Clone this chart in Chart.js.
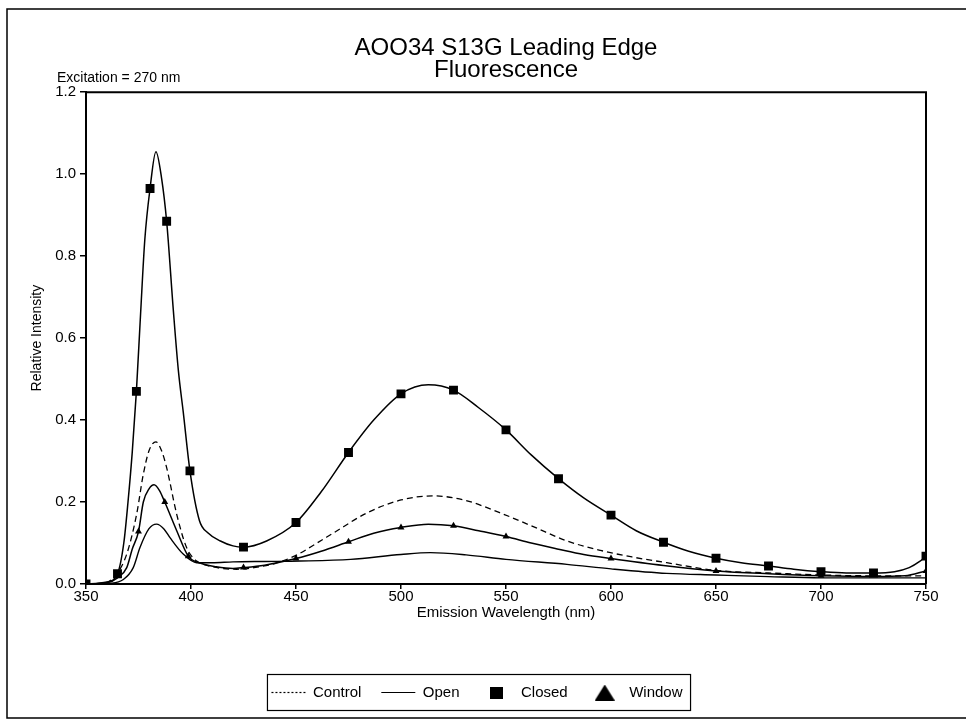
<!DOCTYPE html>
<html><head><meta charset="utf-8">
<script src="https://cdn.jsdelivr.net/npm/chart.js@4.4.1/dist/chart.umd.min.js"></script>
<style>html,body{margin:0;padding:0;background:#fff;}#wrap{width:966px;height:721px;position:relative;}</style>
</head><body><div id="wrap"><canvas id="c" width="966" height="721"></canvas></div>
<script>
const titleLines = ['AOO34 S13G Leading Edge', 'Fluorescence'];
const noteText = 'Excitation = 270 nm';
const xTitle = 'Emission Wavelength (nm)';
const yTitle = 'Relative Intensity';
const seriesNames = ['Control', 'Open', 'Closed', 'Window'];
const xTicks = [350, 400, 450, 500, 550, 600, 650, 700, 750];
const yTicks = [0, 0.2, 0.4, 0.6, 0.8, 1.0, 1.2];

const controlWl  = [350, 360, 364.6, 369.4, 374.1, 377.3, 380, 383.3, 386, 388.4, 393.2, 397.9, 402.7, 408, 415, 421.7, 430, 440, 450, 460, 468, 484, 500, 515, 530, 547, 563, 579, 595, 610, 626.5, 650, 675, 700, 725, 750];
const controlVal = [0, 0.004, 0.024, 0.073, 0.17, 0.268, 0.325, 0.347, 0.325, 0.284, 0.17, 0.089, 0.056, 0.045, 0.038, 0.036, 0.04, 0.05, 0.07, 0.1, 0.125, 0.174, 0.205, 0.215, 0.205, 0.174, 0.14, 0.105, 0.082, 0.066, 0.052, 0.033, 0.027, 0.022, 0.02, 0.02];

const openWl  = [350, 362, 367.8, 372.5, 375.7, 380, 383.6, 387, 390, 396.3, 402.7, 410, 420, 435, 452, 476, 500, 514, 531, 550, 579, 600, 626.5, 650, 675, 700, 725, 750];
const openVal = [0, 0.002, 0.011, 0.04, 0.089, 0.135, 0.146, 0.135, 0.113, 0.073, 0.052, 0.052, 0.054, 0.055, 0.056, 0.06, 0.072, 0.0765, 0.071, 0.06, 0.048, 0.037, 0.026, 0.022, 0.018, 0.015, 0.015, 0.015];

const closedWl  = [350, 360, 365, 368, 370, 372, 374, 376, 378, 380.5, 383.3, 386, 388.4, 391.6, 394, 396.3, 399.5, 404, 408, 414, 420, 425, 436, 450, 462, 475, 487, 500, 513, 525, 537, 550, 562, 575, 587, 600, 612, 625, 637, 650, 662, 675, 687, 700, 712, 725, 735, 742, 747, 750];
const closedVal = [0, 0.005, 0.025, 0.1, 0.2, 0.32, 0.47, 0.66, 0.84, 0.965, 1.055, 0.99, 0.885, 0.667, 0.52, 0.42, 0.276, 0.155, 0.125, 0.105, 0.093, 0.09, 0.105, 0.15, 0.225, 0.321, 0.4, 0.464, 0.486, 0.473, 0.43, 0.376, 0.315, 0.257, 0.21, 0.168, 0.13, 0.102, 0.08, 0.063, 0.052, 0.044, 0.036, 0.03, 0.027, 0.027, 0.03, 0.04, 0.055, 0.068];
const closedMarks = [350, 365, 374, 380.5, 388.4, 399.5, 425, 450, 475, 500, 525, 550, 575, 600, 625, 650, 675, 700, 725, 750];

const windowWl  = [350, 360, 365, 369.4, 372, 375, 377.3, 380, 382.4, 385, 387.5, 393.2, 398.7, 405, 412, 420, 425, 435, 450, 462, 475, 487, 500, 513, 525, 537, 550, 562, 575, 587, 600, 625, 650, 675, 700, 725, 740, 750];
const windowVal = [0, 0.003, 0.015, 0.04, 0.085, 0.128, 0.2, 0.232, 0.242, 0.228, 0.2, 0.13, 0.068, 0.05, 0.042, 0.038, 0.04, 0.046, 0.062, 0.08, 0.103, 0.124, 0.138, 0.146, 0.142, 0.13, 0.116, 0.1, 0.085, 0.072, 0.062, 0.045, 0.032, 0.025, 0.02, 0.018, 0.02, 0.032];
const windowMarks = [375, 387.5, 398.7, 425, 450, 475, 500, 525, 550, 600, 650, 700, 750];

const FONT = "'Liberation Sans', Arial, Helvetica, sans-serif";
const pts = (wl, val) => wl.map((w, i) => ({x: w, y: val[i]}));
const radii = (wl, marks, r) => wl.map(w => marks.includes(w) ? r : 0);

const squareImg = document.createElement('canvas');
squareImg.width = 13; squareImg.height = 12;
{ const g = squareImg.getContext('2d'); g.fillStyle = '#000'; g.fillRect(0, 0, 13, 12); }
const triImg = document.createElement('canvas');
triImg.width = 20; triImg.height = 16;
{ const g = triImg.getContext('2d'); g.fillStyle = '#000'; g.beginPath(); g.moveTo(10, 0); g.lineTo(20, 16); g.lineTo(0, 16); g.closePath(); g.fill(); }

const decor = {
  id: 'decor',
  beforeDraw(chart) {
    const c = chart.ctx; c.save(); c.fillStyle = '#fff'; c.fillRect(0, 0, chart.width, chart.height); c.restore();
  },
  afterDraw(chart) {
    const c = chart.ctx, a = chart.chartArea;
    c.save();
    c.strokeStyle = '#000';
    c.lineWidth = 2;
    c.beginPath();
    c.moveTo(a.left, a.top); c.lineTo(a.right, a.top); c.lineTo(a.right, a.bottom);
    c.stroke();
    c.lineWidth = 1.5;
    c.beginPath();
    c.moveTo(966, 9); c.lineTo(7, 9); c.lineTo(7, 718); c.lineTo(966, 718);
    c.stroke();
    c.fillStyle = '#000';
    c.font = '14px ' + FONT;
    c.textBaseline = 'middle';
    c.textAlign = 'left';
    c.fillText(noteText, 57, 78);
    const hb = chart.legend.legendHitBoxes;
    if (hb && hb.length) {
      let l = Infinity, r = -Infinity, t = Infinity, b = -Infinity;
      hb.forEach(h => { l = Math.min(l, h.left); r = Math.max(r, h.left + h.width); t = Math.min(t, h.top); b = Math.max(b, h.top + h.height); });
      c.lineWidth = 1.2;
      const cy = (t + b) / 2;
      c.strokeRect(l - 4, cy - 18, (r - l) + 12, 36);
    }
    c.restore();
  }
};

new Chart(document.getElementById('c'), {
  type: 'line',
  data: {
    datasets: [
      { label: seriesNames[0], data: pts(controlWl, controlVal), borderColor: '#000', borderWidth: 1.3, borderDash: [6, 4], pointRadius: 0, cubicInterpolationMode: 'monotone', fill: false },
      { label: seriesNames[1], data: pts(openWl, openVal), borderColor: '#000', borderWidth: 1.4, pointRadius: 0, cubicInterpolationMode: 'monotone', fill: false },
      { label: seriesNames[2], data: pts(closedWl, closedVal), borderColor: '#000', borderWidth: 1.5, backgroundColor: '#000', pointBackgroundColor: '#000', pointBorderColor: '#000', pointBorderWidth: 0, pointStyle: 'rect', pointRadius: radii(closedWl, closedMarks, 6.3), cubicInterpolationMode: 'monotone', fill: false },
      { label: seriesNames[3], data: pts(windowWl, windowVal), borderColor: '#000', borderWidth: 1.5, backgroundColor: '#000', pointBackgroundColor: '#000', pointBorderColor: '#000', pointBorderWidth: 0, pointStyle: 'triangle', pointRadius: radii(windowWl, windowMarks, 4), cubicInterpolationMode: 'monotone', fill: false }
    ]
  },
  options: {
    responsive: false,
    animation: false,
    devicePixelRatio: 1,
    layout: { padding: { left: 28, right: 40, top: 10, bottom: 11 } },
    plugins: {
      tooltip: { enabled: false },
      title: {
        display: true, text: titleLines, color: '#000', fullSize: false,
        font: { family: FONT, size: 24, weight: 'normal', lineHeight: 0.9 },
        padding: { top: 28, bottom: 11 }
      },
      legend: {
        display: true, position: 'bottom',
        labels: {
          color: '#000', font: { family: FONT, size: 15 }, usePointStyle: true, pointStyleWidth: 34, boxHeight: 14, padding: 20,
          generateLabels: () => [
            { text: seriesNames[0], pointStyle: 'line', lineDash: [2, 2], lineWidth: 1.2, strokeStyle: '#000', fillStyle: '#000', fontColor: '#000', hidden: false, datasetIndex: 0 },
            { text: seriesNames[1], pointStyle: 'line', lineWidth: 1.2, strokeStyle: '#000', fillStyle: '#000', fontColor: '#000', hidden: false, datasetIndex: 1 },
            { text: seriesNames[2], pointStyle: squareImg, lineWidth: 0, strokeStyle: '#000', fillStyle: '#000', fontColor: '#000', hidden: false, datasetIndex: 2 },
            { text: seriesNames[3], pointStyle: triImg, lineWidth: 0, strokeStyle: '#000', fillStyle: '#000', fontColor: '#000', hidden: false, datasetIndex: 3 }
          ]
        }
      }
    },
    scales: {
      x: {
        type: 'linear', min: 350, max: 750,
        afterBuildTicks: s => { s.ticks = xTicks.map(v => ({ value: v })); },
        grid: { display: true, drawOnChartArea: false, drawTicks: true, tickLength: 5, color: '#000', lineWidth: 1.5 },
        border: { display: true, color: '#000', width: 2 },
        ticks: { color: '#000', font: { family: FONT, size: 15 }, padding: -1, maxRotation: 0, autoSkip: false },
        title: { display: true, text: xTitle, color: '#000', font: { family: FONT, size: 15 }, padding: { top: -1, bottom: 43 } }
      },
      y: {
        type: 'linear', min: 0, max: 1.2,
        afterBuildTicks: s => { s.ticks = yTicks.map(v => ({ value: v })); },
        afterFit: s => { s.width = 58; },
        grid: { display: true, drawOnChartArea: false, drawTicks: true, tickLength: 6, color: '#000', lineWidth: 1.5 },
        border: { display: true, color: '#000', width: 2 },
        ticks: { color: '#000', font: { family: FONT, size: 15 }, padding: 4, callback: v => Number(v).toFixed(1) },
        title: { display: true, text: yTitle, color: '#000', font: { family: FONT, size: 14 }, padding: { top: 1, bottom: 0 } }
      }
    }
  },
  plugins: [decor]
});
</script></body></html>
